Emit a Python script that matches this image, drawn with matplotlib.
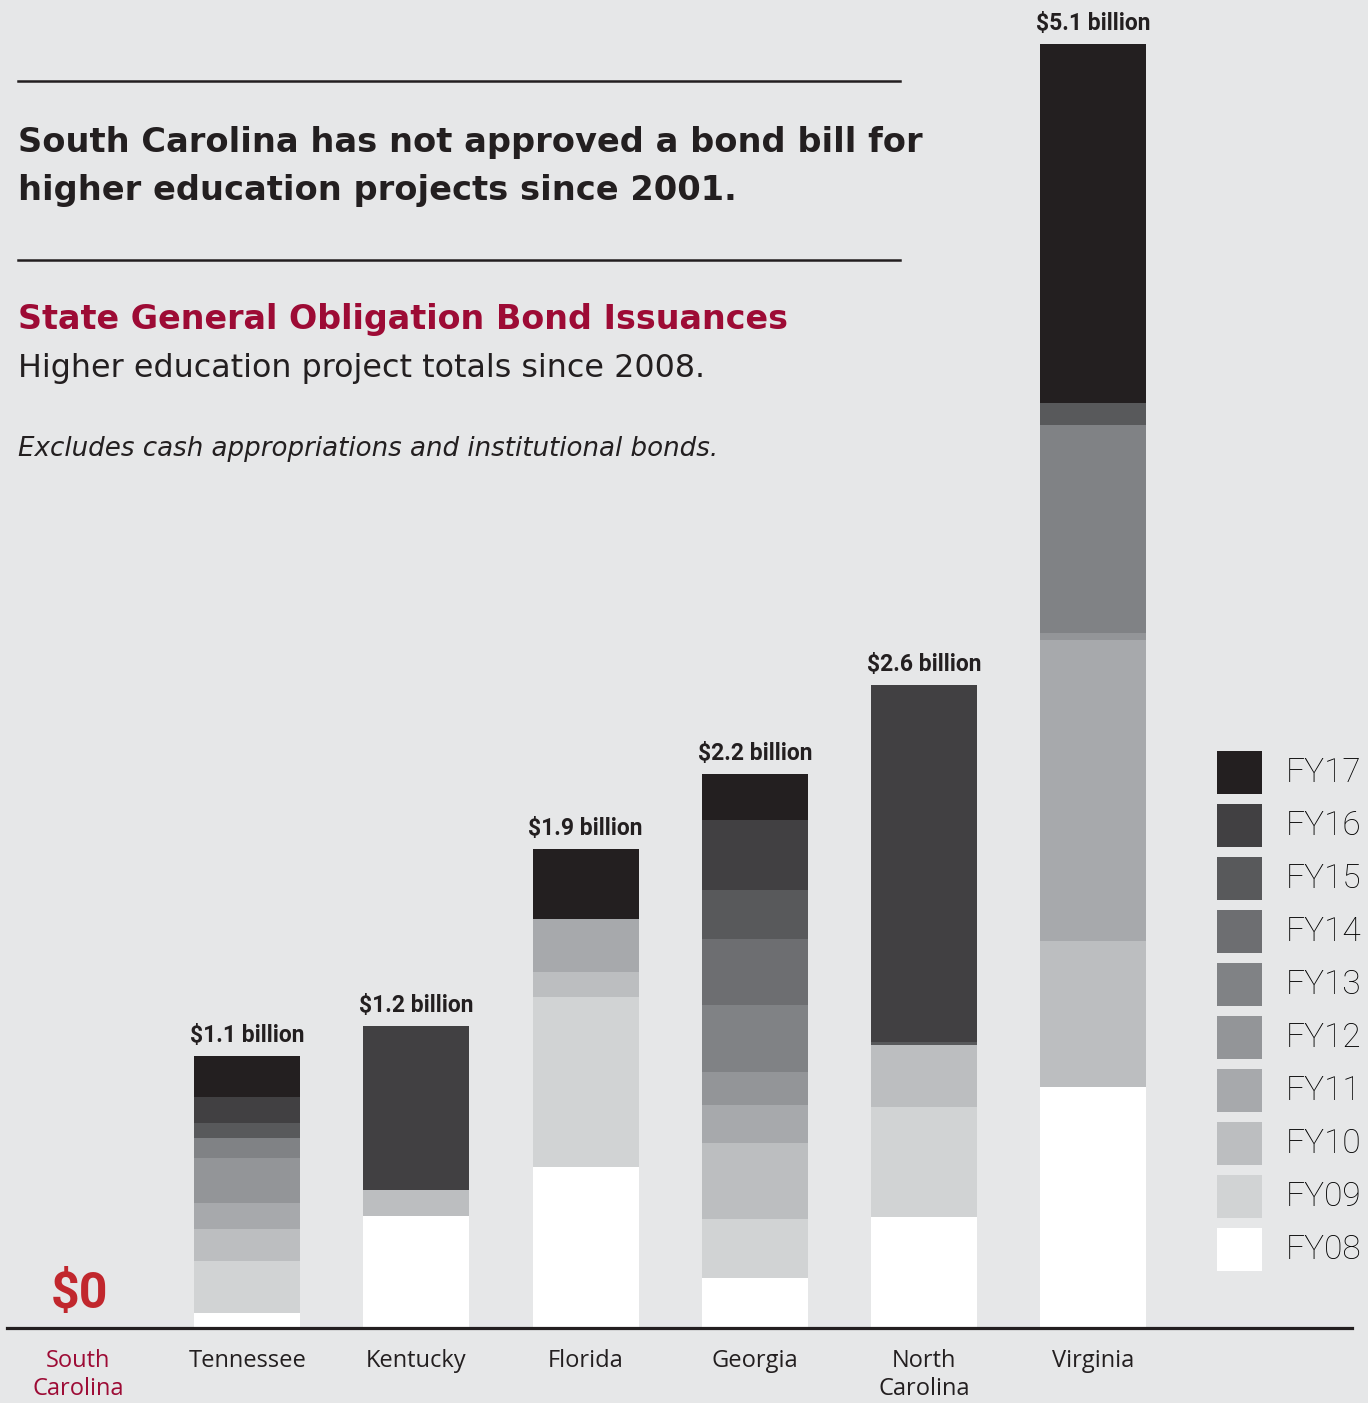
import matplotlib
matplotlib.use("Agg")
import matplotlib.pyplot as plt
from matplotlib.lines import Line2D
from matplotlib.patches import Rectangle
import numpy as np

# Higher-ed general obligation bond issuances by state, $ billions per fiscal year
states = ["South\nCarolina", "Tennessee", "Kentucky", "Florida", "Georgia", "North\nCarolina", "Virginia"]
fiscal_years = ["FY08", "FY09", "FY10", "FY11", "FY12", "FY13", "FY14", "FY15", "FY16", "FY17"]

fy08 = [0, 0.061, 0.444, 0.639, 0.197, 0.442, 0.959]
fy09 = [0, 0.205, 0.000, 0.676, 0.238, 0.436, 0.000]
fy10 = [0, 0.127, 0.104, 0.101, 0.300, 0.247, 0.579]
fy11 = [0, 0.104, 0.000, 0.208, 0.150, 0.000, 1.195]
fy12 = [0, 0.179, 0.000, 0.000, 0.133, 0.000, 0.029]
fy13 = [0, 0.078, 0.000, 0.000, 0.267, 0.000, 0.826]
fy14 = [0, 0.000, 0.000, 0.000, 0.262, 0.000, 0.000]
fy15 = [0, 0.060, 0.000, 0.000, 0.193, 0.012, 0.087]
fy16 = [0, 0.103, 0.652, 0.000, 0.280, 1.417, 0.000]
fy17 = [0, 0.163, 0.000, 0.279, 0.181, 0.000, 1.426]

series = [fy08, fy09, fy10, fy11, fy12, fy13, fy14, fy15, fy16, fy17]
colors = ["#ffffff", "#d1d3d4", "#bcbec0", "#a7a9ac", "#939598",
          "#808285", "#6d6e71", "#58595b", "#414042", "#231f20"]

BG = "#e6e7e8"
INK = "#231f20"
MAROON = "#9d0b35"
RED = "#c1272d"
W, H = 1368, 1403

fig = plt.figure(figsize=(W / 100, H / 100), dpi=100, facecolor=BG)


def fx(px):
    return px / W


def fy(py):
    return 1 - py / H


ax = fig.add_axes([0, fy(1328), 1, 1328 / H])
ax.set_facecolor(BG)
x = np.arange(len(states))
ax.set_xlim(-0.461, 7.624)
ax.set_ylim(0, 1328 / 251.7)

bottom = np.zeros(len(states))
for values, color in zip(series, colors):
    ax.bar(x, values, bottom=bottom, width=0.6265, color=color, linewidth=0)
    bottom += np.array(values)

totals = bottom
for xi, total in zip(x, totals):
    if total > 0:
        ax.annotate(f"${total:.1f} billion", (xi, total), xytext=(0, 6.5),
                    textcoords="offset points", ha="center", va="bottom",
                    fontsize=16.5, fontweight="bold", color=INK, family="Roboto")
    else:
        ax.text(xi + 0.01, 0.08, f"${total:.0f}", ha="center", va="baseline",
                fontsize=36, fontweight="bold", color=RED, family="Roboto")

ax.axhline(0, xmin=fx(7), xmax=fx(1352), color=INK, lw=2.3, clip_on=False, zorder=5)

for s in ax.spines.values():
    s.set_visible(False)
ax.set_yticks([])
ax.set_xticks(x, states)
ax.tick_params(axis="x", length=0, pad=15)
for lab in ax.get_xticklabels():
    lab.set_fontsize(17)
    lab.set_family("Open Sans")
    lab.set_color(INK)
    lab.set_linespacing(1.25)
ax.get_xticklabels()[0].set_color(MAROON)

# header block
for py in (80.5, 259.5):
    fig.add_artist(Line2D([fx(18), fx(900)], [fy(py), fy(py)], color=INK, lw=1.8))

title_font = dict(fontsize=24.2, fontweight="bold", color=INK, family="DejaVu Sans", va="baseline")
fig.text(fx(18), fy(152), "South Carolina has not approved a bond bill for", **title_font)
fig.text(fx(18), fy(200), "higher education projects since 2001.", **title_font)
fig.text(fx(18), fy(329), "State General Obligation Bond Issuances", fontsize=24,
         fontweight="bold", color=MAROON, family="DejaVu Sans", va="baseline")
fig.text(fx(18), fy(377), "Higher education project totals since 2008.", fontsize=22.9,
         color=INK, family="DejaVu Sans", va="baseline")
fig.text(fx(18), fy(456), "Excludes cash appropriations and institutional bonds.", fontsize=18.8,
         style="italic", color=INK, family="DejaVu Sans", va="baseline")

# legend, newest year on top
for i, (label, color) in enumerate(zip(fiscal_years[::-1], colors[::-1])):
    top = 751 + i * 53
    fig.add_artist(Rectangle((fx(1217), fy(top + 43)), 45 / W, 43 / H,
                             facecolor=color, edgecolor="none"))
    fig.text(fx(1286), fy(top + 22), label, fontsize=24, fontweight="light",
             color="#000000", va="center", family="Roboto")

fig.savefig("out.png", dpi=100, facecolor=BG)
